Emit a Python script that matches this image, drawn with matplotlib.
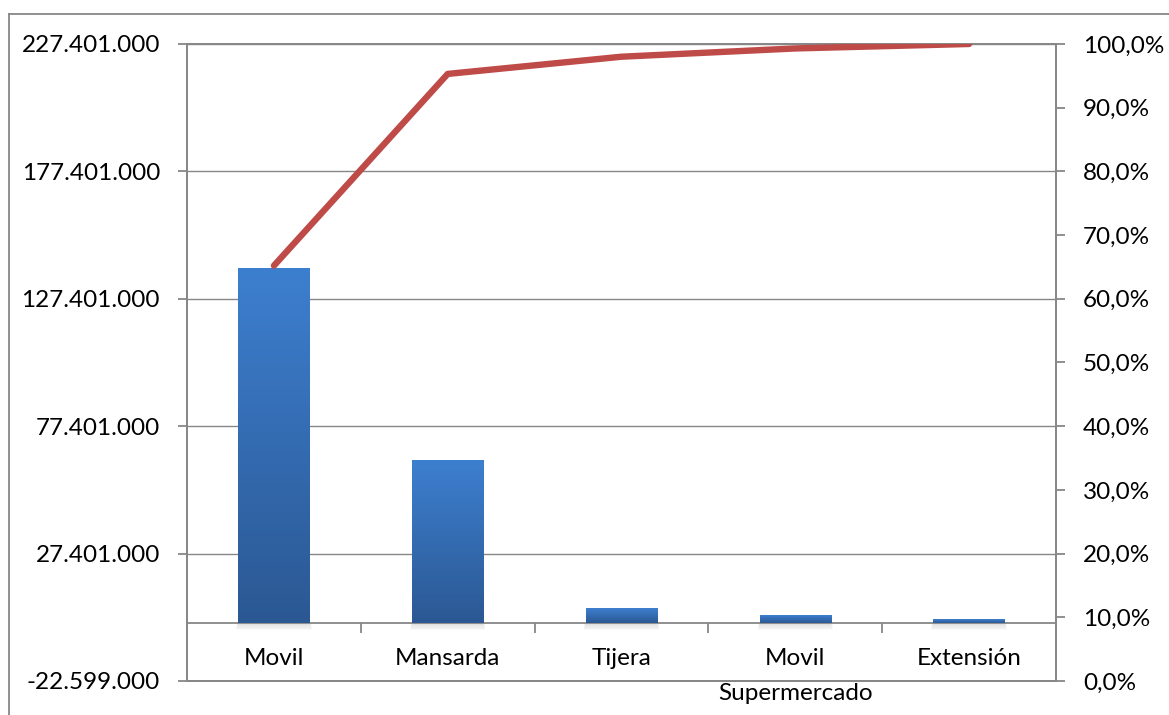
import numpy as np
import matplotlib
matplotlib.use('Agg')
import matplotlib.pyplot as plt
from matplotlib.colors import LinearSegmentedColormap
from matplotlib.lines import Line2D
from matplotlib.ticker import FixedLocator, FuncFormatter

plt.rcParams['font.family'] = ['Lato', 'DejaVu Sans']

# Data
categories = ['Movil', 'Mansarda', 'Tijera', 'Movil\nSupermercado', 'Extensión']
valores = [139100000, 63700000, 5800000, 3000000, 1450000]
acumulado = [65.2, 95.3, 98.0, 99.3, 100.0]

y_min = -22599000
y_max = 227401000
paso = 50000000

gris = '#878787'
azul_grad = LinearSegmentedColormap.from_list('azul', ['#2B5893', '#3D7FCF'])
rojo = '#BE4B48'
fs = 17.5

fig = plt.figure(figsize=(11.69, 7.15), dpi=100)
ax = fig.add_axes([0.16, 0.0476, 0.7433, 0.8909])

x = np.arange(len(categories))
ancho = 0.41

# bars with a vertical gradient and a soft shadow under them
for xi, v in zip(x, valores):
    for k in range(5):
        w = ancho + 0.006 * k
        d = 550000 * (k + 1)
        ax.bar(xi, -d, width=w, bottom=0, color='#000000', alpha=0.025,
               linewidth=0, zorder=1)
    grad = np.linspace(0, 1, 200).reshape(-1, 1)
    ax.imshow(grad, cmap=azul_grad, origin='lower', aspect='auto',
              extent=(xi - ancho / 2, xi + ancho / 2, 0, v), zorder=3)

ax.set_xlim(-0.5, len(categories) - 0.5)
ax.set_ylim(y_min, y_max)

# left axis
yt = np.arange(y_min, y_max + 1, paso)
ax.set_yticks(yt)
ax.yaxis.set_major_formatter(FuncFormatter(
    lambda v, p: f"{v:,.0f}".replace(',', '.')))
ax.grid(axis='y', color=gris, linewidth=1.0, zorder=0)
ax.set_axisbelow(True)

# category axis sits at zero
ax.spines['bottom'].set_position(('data', 0))
ax.axhline(y_min, color=gris, linewidth=1.3, zorder=2, clip_on=False)
ax.xaxis.set_major_locator(FixedLocator(x))
ax.xaxis.set_minor_locator(FixedLocator(np.arange(0.5, len(categories) - 1, 1)))
ax.set_xticklabels(categories)
for lbl in ax.get_xticklabels():
    lbl.set_linespacing(1.8)
ax.tick_params(axis='x', which='major', length=0, pad=18, labelsize=fs)
ax.tick_params(axis='x', which='minor', length=7, width=1.3, color=gris,
               direction='out')
ax.tick_params(axis='y', length=6.5, width=1.3, color=gris, pad=13,
               labelsize=fs, direction='out')

for s in ['left', 'right', 'bottom', 'top']:
    ax.spines[s].set_color(gris)
    ax.spines[s].set_linewidth(1.3)

# cumulative percentage on the right axis
ax2 = ax.twinx()
ax2.plot(x, acumulado, color=rojo, linewidth=4.6, solid_capstyle='round',
         solid_joinstyle='round', zorder=5)
ax2.set_ylim(0, 100)
ax2.set_yticks(np.arange(0, 101, 10))
ax2.yaxis.set_major_formatter(FuncFormatter(
    lambda v, p: f"{v:.1f}%".replace('.', ',')))
ax2.tick_params(axis='y', length=6.5, width=1.3, color=gris, pad=13,
                labelsize=fs, direction='out')
for s in ['left', 'right', 'bottom', 'top']:
    ax2.spines[s].set_color(gris)
    ax2.spines[s].set_linewidth(1.3)

# outer chart frame
fig.add_artist(Line2D([9 / 1169, 1], [1 - 14 / 715, 1 - 14 / 715],
                      color=gris, linewidth=1.3))
fig.add_artist(Line2D([9 / 1169, 9 / 1169], [0, 1 - 14 / 715],
                      color=gris, linewidth=1.3))

fig.savefig('out.png', dpi=100)
